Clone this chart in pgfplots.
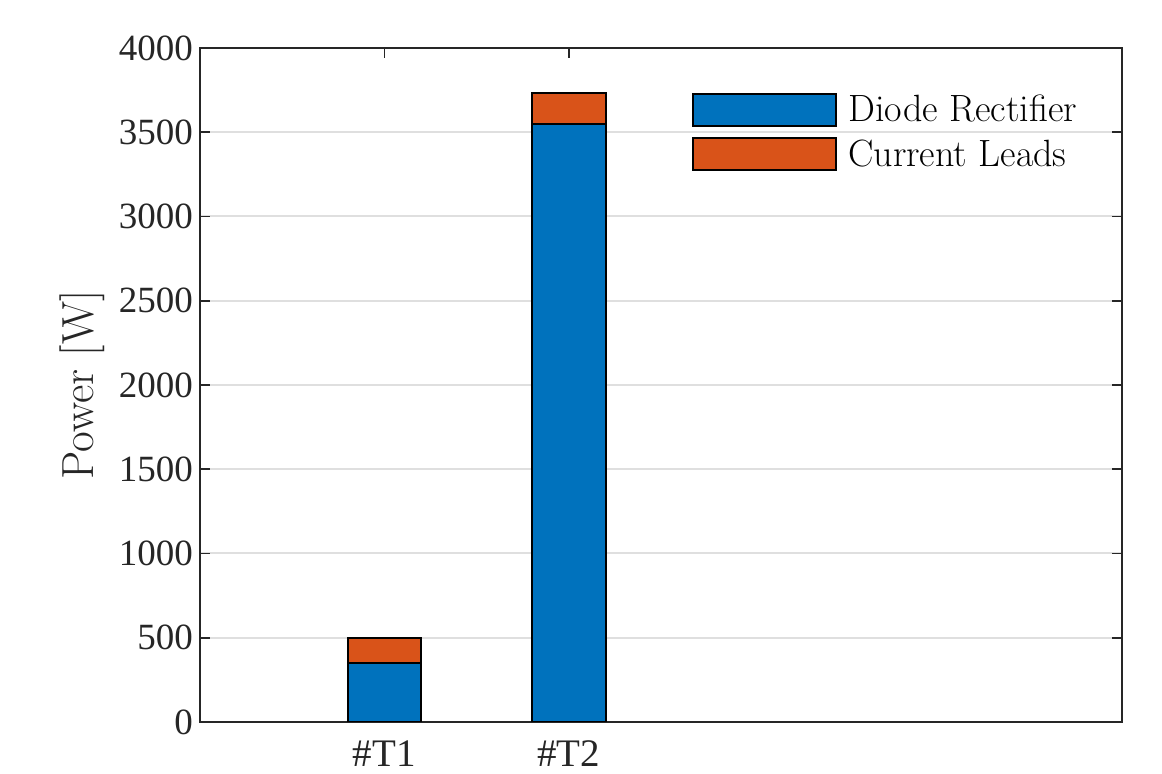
\documentclass[border=0pt]{standalone}
\usepackage{fontspec}
\newfontfamily\tnr{Liberation Serif}
\usepackage{pgfplots}
\pgfplotsset{compat=1.18}
\pgfplotsset{layers/gridbelow/.define layer set={axis background,axis grid,main,axis ticks,axis lines,axis tick labels,axis descriptions,axis foreground}{}}
\definecolor{mblue}{RGB}{0,114,189}
\definecolor{morange}{RGB}{217,83,25}
\definecolor{axcol}{RGB}{38,38,38}
\definecolor{gridcol}{RGB}{223,223,223}
\begin{document}
\begin{tikzpicture}
\begin{axis}[
 set layers=gridbelow,
 scale only axis, width=461pt, height=337pt,
 xmin=0, xmax=5, ymin=0, ymax=4000,
 ybar stacked, bar width=0.4,
 xtick={1,2}, xticklabels={\#T1,\#T2},
 ytick={0,500,...,4000},
 tick align=inside, major tick length=5pt,
 axis line style={axcol, line width=0.9pt},
 every tick/.style={axcol, line width=0.9pt},
 ymajorgrids, grid style={gridcol, line width=1pt},
 ticklabel style={font=\tnr\fontsize{18.5}{20}\selectfont, text=axcol},
 x tick label style={yshift=-6pt, font=\tnr\fontsize{19.5}{21}\selectfont},
 /pgf/number format/assume math mode=true,
 scaled y ticks=false, y tick label style={/pgf/number format/1000 sep={}},
 ylabel={Power [W]},
 ylabel style={font=\fontsize{22.5}{25}\selectfont, text=axcol, at={(axis description cs:-0.128,0.5)}, anchor=center},
 legend style={at={(0.527,0.946)}, anchor=north west, draw=none, fill=none,
   font=\fontsize{19}{21}\selectfont, legend cell align=left, row sep=1.5pt,
   nodes={inner sep=3pt}, /tikz/every even column/.style={column sep=0pt}},
]
\addplot[fill=mblue, draw=black, line width=1pt,
  legend image code/.code={\draw[fill=mblue, draw=black, line width=1pt] (0pt,-8pt) rectangle (71.5pt,8pt);}]
  coordinates {(1,350) (2,3550)};
\addlegendentry{\hspace{2.5pt}Diode Rectifier}
\addplot[fill=morange, draw=black, line width=1pt,
  legend image code/.code={\draw[fill=morange, draw=black, line width=1pt] (0pt,-8pt) rectangle (71.5pt,8pt);}]
  coordinates {(1,150) (2,180)};
\addlegendentry{\hspace{2.5pt}Current Leads}
\coordinate (bl) at (rel axis cs:0,0);
\coordinate (tr) at (rel axis cs:1,1);
\end{axis}
\path[use as bounding box] ([shift={(-100pt,-23pt)}]bl) rectangle ([shift={(20pt,24pt)}]tr);
\end{tikzpicture}
\end{document}
